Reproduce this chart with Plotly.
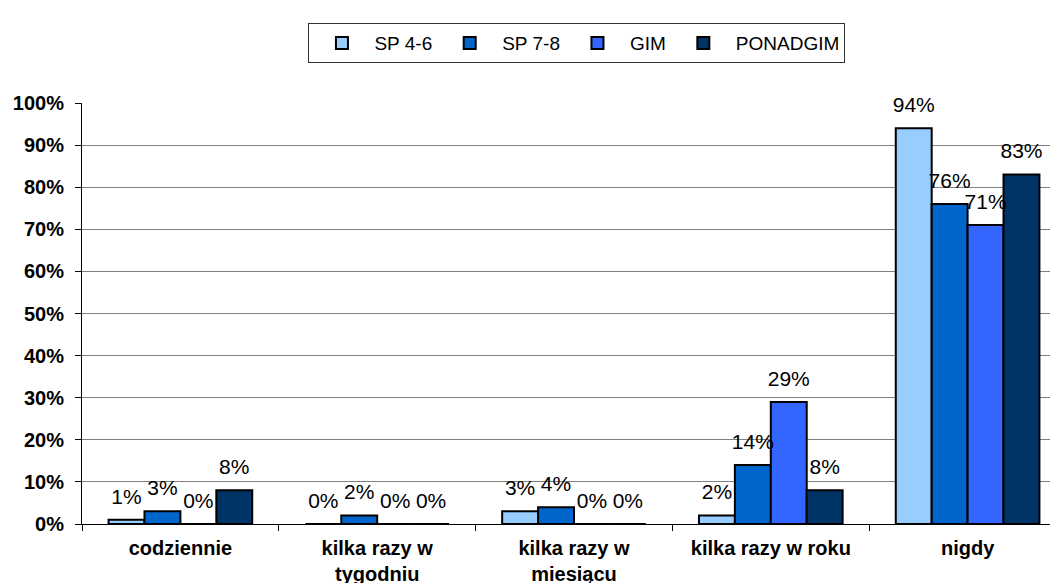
import plotly.graph_objects as go

categories = ["codziennie", "kilka razy w<br>tygodniu", "kilka razy w<br>miesiącu", "kilka razy w roku", "nigdy"]
series_names = ["SP 4-6", "SP 7-8", "GIM", "PONADGIM"]
sp46 = [1, 0, 3, 2, 94]
sp78 = [3, 2, 4, 14, 76]
gim = [0, 0, 0, 29, 71]
ponadgim = [8, 0, 0, 8, 83]
colors = ["#99CCFF", "#0066CC", "#3366FF", "#003366"]
tick_vals = [0, 10, 20, 30, 40, 50, 60, 70, 80, 90, 100]
tick_text = [f"{v}%" for v in tick_vals]

FONT = "Liberation Sans, Arial"
all_series = [sp46, sp78, gim, ponadgim]

fig = go.Figure()
for name, vals, col in zip(series_names, all_series, colors):
    fig.add_trace(go.Bar(
        name=name, x=categories, y=vals,
        marker=dict(color=col, line=dict(color="black", width=2)),
        hoverinfo="skip",
    ))
# data labels, grouped the same way as the bars
for name, vals in zip(series_names, all_series):
    fig.add_trace(go.Scatter(
        x=categories, y=vals, mode="markers+text",
        text=[f"{v}%" for v in vals], textposition="top center",
        textfont=dict(family=FONT, size=21, color="black"),
        marker=dict(size=16, color="rgba(0,0,0,0)"),
        showlegend=False, hoverinfo="skip", cliponaxis=False,
    ))

# page body adds an 8px offset; margins compensate
fig.update_layout(
    width=1058, height=583,
    margin=dict(l=74, r=0, t=95, b=67, autoexpand=False),
    paper_bgcolor="white", plot_bgcolor="white",
    barmode="group", bargap=0.27, bargroupgap=0,
    scattermode="group", scattergap=0.27,
    font=dict(family=FONT, color="black"),
    legend=dict(
        orientation="h", x=0.503, xanchor="center", y=1.142, yanchor="middle",
        bordercolor="#333333", borderwidth=1,
        font=dict(size=19, family=FONT), itemwidth=55,
        itemsizing="constant",
    ),
    xaxis=dict(
        showline=True, linecolor="black", linewidth=1, automargin=False,
        ticks="outside", tickson="boundaries", ticklen=6, tickcolor="black",
        ticklabelstandoff=6,
        tickfont=dict(size=20, family=FONT, weight="bold"),
    ),
    yaxis=dict(
        range=[0, 100], tickvals=tick_vals, ticktext=tick_text, automargin=False,
        showline=True, linecolor="black", linewidth=1,
        ticks="outside", ticklen=6, tickcolor="black",
        ticklabelstandoff=7,
        showgrid=True, gridcolor="#808080", gridwidth=1,
        tickfont=dict(size=20, family=FONT, weight="bold"),
        zeroline=False,
    ),
)

fig.write_html("out.html")
